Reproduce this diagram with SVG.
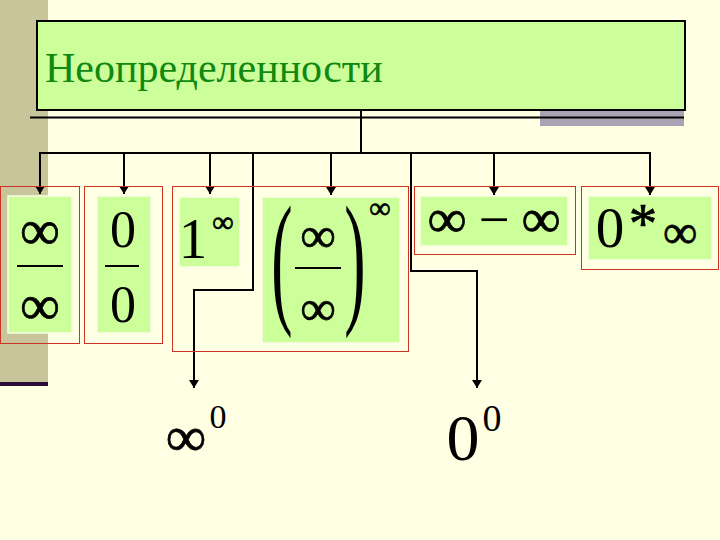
<svg xmlns="http://www.w3.org/2000/svg" width="720" height="540" viewBox="0 0 720 540">
<defs>
<marker id="ah" viewBox="0 0 8 10" refX="8" refY="5" markerWidth="8" markerHeight="10" markerUnits="userSpaceOnUse" orient="auto">
<path d="M0,0 L8,5 L0,10 Z" fill="#000"/>
</marker>
<style>
.red{fill:none;stroke:#cc3322;stroke-width:1}
.grn{fill:#ccff99;stroke:#fbfde8;stroke-width:1.5}
.m{font-family:"Liberation Serif","Times New Roman",serif;fill:#000;text-anchor:middle}
.i{stroke:#000;stroke-width:0.7}
.ln{stroke:#000;stroke-width:2;fill:none}
.fr{stroke:#000;stroke-width:2}
.t{font-family:"Liberation Serif","Times New Roman",serif;font-size:42px;fill:#118811}
</style>
</defs>
<rect x="0" y="0" width="720" height="540" fill="#ffffe3"/>
<rect x="0" y="0" width="48" height="382" fill="#c8c59b"/>
<rect x="0" y="382" width="48" height="4" fill="#2a0c3a"/>

<g id="title">
<rect x="540" y="111" width="144" height="15" fill="#a9a2b2"/>
<rect x="37" y="21" width="648" height="89" fill="#ccff99" stroke="#000" stroke-width="2"/>
<text class="t" x="45" y="82">Неопределенности</text>
<line x1="30" y1="117.5" x2="684" y2="117.5" stroke="#000" stroke-width="2"/>
</g>

<g id="connectors" class="ln">
<line x1="361" y1="110" x2="361" y2="153"/>
<line x1="39" y1="153" x2="651" y2="153"/>
<line x1="40" y1="153" x2="40" y2="194" marker-end="url(#ah)"/>
<line x1="124" y1="153" x2="124" y2="194" marker-end="url(#ah)"/>
<line x1="210" y1="153" x2="210" y2="194" marker-end="url(#ah)"/>
<line x1="331" y1="153" x2="331" y2="195" marker-end="url(#ah)"/>
<line x1="494" y1="153" x2="494" y2="195" marker-end="url(#ah)"/>
<line x1="650" y1="153" x2="650" y2="195" marker-end="url(#ah)"/>
<polyline points="253,153 253,290 194,290 194,388" marker-end="url(#ah)"/>
<polyline points="411,153 411,271 477,271 477,388" marker-end="url(#ah)"/>
</g>

<g id="n-inf-inf">
<rect class="red" x="0.5" y="186.5" width="79" height="157"/>
<rect class="grn" x="8" y="196" width="64" height="137"/>
<text class="m i" x="40" y="249" font-size="56">∞</text>
<line class="fr" x1="17" y1="266" x2="63" y2="266"/>
<text class="m i" x="40" y="324" font-size="56">∞</text>
</g>

<g id="n-0-0">
<rect class="red" x="84.5" y="186.5" width="78" height="157"/>
<rect class="grn" x="97" y="196" width="54" height="137"/>
<text class="m" x="123" y="247" font-size="52">0</text>
<line class="fr" x1="105" y1="266" x2="139" y2="266"/>
<text class="m" x="123" y="322" font-size="52">0</text>
</g>

<g id="n-1-inf">
<rect class="red" x="172.5" y="186.5" width="236" height="165"/>
<rect class="grn" x="179" y="197" width="61" height="70"/>
<text class="m" x="193" y="258" font-size="57">1</text>
<text class="m i" x="223" y="232" font-size="30">∞</text>
</g>

<g id="n-paren">
<rect class="grn" x="262" y="197" width="138" height="146"/>
<g transform="translate(282,270) scale(1,2.3)"><text class="m" x="0" y="16" font-size="64">(</text></g>
<g transform="translate(355,270) scale(1,2.3)"><text class="m" x="0" y="16" font-size="64">)</text></g>
<text class="m i" x="318" y="252" font-size="50">∞</text>
<line class="fr" x1="295" y1="268" x2="341" y2="268"/>
<text class="m i" x="318" y="325" font-size="50">∞</text>
<text class="m i" x="380" y="218" font-size="30">∞</text>
</g>

<g id="n-inf-minus-inf">
<rect class="red" x="414.5" y="186.5" width="161" height="68"/>
<rect class="grn" x="420" y="196" width="148" height="50"/>
<text class="m i" x="447" y="237" font-size="55">∞</text>
<text class="m" x="494" y="238" font-size="55">−</text>
<text class="m i" x="541" y="237" font-size="55">∞</text>
</g>

<g id="n-0-star-inf">
<rect class="red" x="581.5" y="186.5" width="137" height="83"/>
<rect class="grn" x="588" y="196" width="124" height="64"/>
<text class="m" x="610" y="247" font-size="57">0</text>
<text class="m i" x="643" y="243" font-size="57">*</text>
<text class="m i" x="680" y="248" font-size="48">∞</text>
</g>

<g id="n-inf-0">
<text class="m i" x="186" y="456" font-size="57">∞</text>
<text class="m" x="218" y="428" font-size="34">0</text>
</g>

<g id="n-0-0b">
<text class="m" x="463" y="460" font-size="66">0</text>
<text class="m" x="492" y="431" font-size="38">0</text>
</g>
</svg>
